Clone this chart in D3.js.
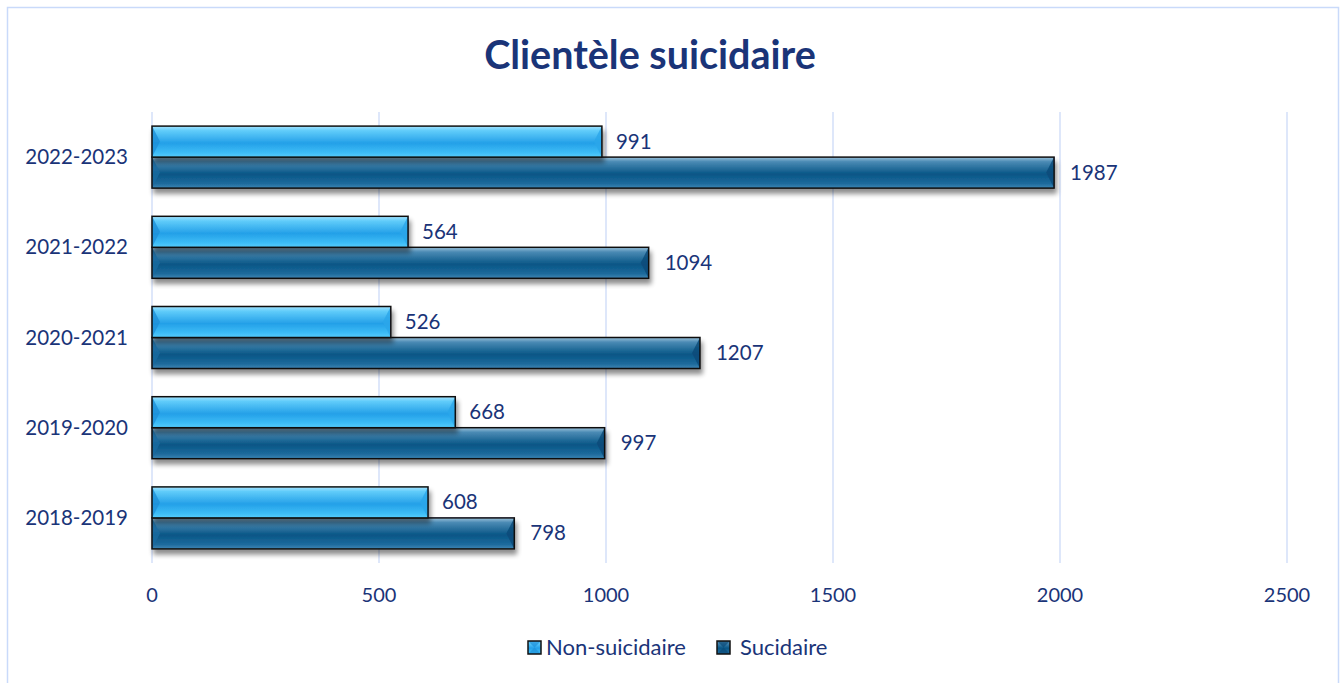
<!DOCTYPE html>
<html>
<head>
<meta charset="utf-8">
<script src="https://cdn.jsdelivr.net/npm/d3@7"></script>
<style>
  body { margin: 0; background: #fff; }
  svg { display: block; font-family: Lato, "Open Sans", sans-serif; }
</style>
</head>
<body>
<div id="chart"></div>
<script>
var periods = ["2022-2023", "2021-2022", "2020-2021", "2019-2020", "2018-2019"];
var nonSuicidaire = [991, 564, 526, 668, 608];
var suicidaire = [1987, 1094, 1207, 997, 798];
var seriesNames = ["Non-suicidaire", "Sucidaire"];
var xTicks = [0, 500, 1000, 1500, 2000, 2500];

var W = 1341, H = 683;
var svg = d3.select("#chart").append("svg").attr("width", W).attr("height", H);
var defs = svg.append("defs");

function grad(id, stops) {
  var g = defs.append("linearGradient").attr("id", id)
    .attr("x1", 0).attr("y1", 0).attr("x2", 0).attr("y2", 1);
  stops.forEach(function(s) {
    g.append("stop").attr("offset", s[0]).attr("stop-color", s[1]);
  });
}
grad("gLight", [[0, "#a6e4ff"], [0.15, "#60ccfa"], [0.55, "#24a0e8"], [0.85, "#3cbcf6"], [1, "#56ccfc"]]);
grad("gDark", [[0, "#9cc2da"], [0.15, "#4a8ab4"], [0.55, "#085686"], [0.85, "#1d6a9c"], [1, "#3e86b4"]]);

var f = defs.append("filter").attr("id", "shadow").attr("x", "-5%").attr("y", "-20%").attr("width", "110%").attr("height", "160%");
f.append("feGaussianBlur").attr("in", "SourceAlpha").attr("stdDeviation", 2.5);
f.append("feOffset").attr("dx", 2).attr("dy", 5).attr("result", "b");
f.append("feComponentTransfer").append("feFuncA").attr("type", "linear").attr("slope", 0.45);
var m = f.append("feMerge");
m.append("feMergeNode");
m.append("feMergeNode").attr("in", "SourceGraphic");

// outer frame
svg.append("rect").attr("x", 7.5).attr("y", 7.5).attr("width", 1331).attr("height", 690)
  .attr("fill", "none").attr("stroke", "#c9dafa").attr("stroke-width", 1.5);

svg.append("text").attr("x", 650).attr("y", 69).attr("text-anchor", "middle")
  .attr("font-size", 39.5).attr("font-weight", "bold").attr("fill", "#1a3478")
  .text("Clientèle suicidaire");

var x = d3.scaleLinear().domain([0, 2500]).range([152, 1287]);
var y = d3.scaleBand().domain(periods).range([112, 563]);
var barH = 31;

// gridlines
svg.append("g").selectAll("line").data(xTicks).enter().append("line")
  .attr("x1", function(d) { return x(d); }).attr("x2", function(d) { return x(d); })
  .attr("y1", 112).attr("y2", 563)
  .attr("stroke", "#d3dff8").attr("stroke-width", 1.5);

// x tick labels
svg.append("g").selectAll("text").data(xTicks).enter().append("text")
  .attr("x", function(d) { return x(d); }).attr("y", 602)
  .attr("text-anchor", "middle").attr("font-size", 20).attr("fill", "#1a3478")
  .text(function(d) { return d; });

// category labels
svg.append("g").selectAll("text").data(periods).enter().append("text")
  .attr("x", 128).attr("y", function(d) { return y(d) + y.bandwidth() / 2 + 7; })
  .attr("text-anchor", "end").attr("font-size", 20.5).attr("fill", "#1a3478")
  .text(function(d) { return d; });

function drawBar(g, x0, x1, y0, h, fillId, bevelL, bevelR) {
  var bar = g.append("g").attr("filter", "url(#shadow)");
  bar.append("rect").attr("x", x0).attr("y", y0).attr("width", x1 - x0).attr("height", h)
    .attr("fill", "url(#" + fillId + ")");
  var b = 8;
  bar.append("polygon")
    .attr("points", [[x0, y0], [x0 + b, y0 + h / 2], [x0, y0 + h]].join(" "))
    .attr("fill", bevelL).attr("opacity", 0.8);
  bar.append("polygon")
    .attr("points", [[x1, y0], [x1 - b, y0 + h / 2], [x1, y0 + h]].join(" "))
    .attr("fill", bevelR).attr("opacity", 0.8);
  bar.append("rect").attr("x", x0).attr("y", y0).attr("width", x1 - x0).attr("height", h)
    .attr("fill", "none").attr("stroke", "#111").attr("stroke-width", 1.5);
}

var bars = svg.append("g");
periods.forEach(function(p, i) {
  var yc = y(p) + y.bandwidth() / 2;
  // dark first so the light bar sits on top of its shadow
  drawBar(bars, x(0), x(suicidaire[i]), yc, barH, "gDark", "#1a6aa0", "#0a4a78");
  drawBar(bars, x(0), x(nonSuicidaire[i]), yc - barH, barH, "gLight", "#1e90d8", "#2aa6ea");
});

var labels = svg.append("g").attr("font-size", 20.5).attr("fill", "#1a3478");
periods.forEach(function(p, i) {
  var yc = y(p) + y.bandwidth() / 2;
  labels.append("text").attr("x", x(nonSuicidaire[i]) + 14).attr("y", yc - barH / 2 + 7)
    .text(nonSuicidaire[i]);
  labels.append("text").attr("x", x(suicidaire[i]) + 16).attr("y", yc + barH / 2 + 7)
    .text(suicidaire[i]);
});

// legend
var legend = svg.append("g");
var legendItems = [
  { name: seriesNames[0], fill: "gLight", bl: "#1e90d8", x: 528 },
  { name: seriesNames[1], fill: "gDark", bl: "#0a4a78", x: 717 }
];
legendItems.forEach(function(d) {
  var s = 13, yy = 641;
  legend.append("rect").attr("x", d.x).attr("y", yy).attr("width", s).attr("height", s)
    .attr("fill", "url(#" + d.fill + ")");
  legend.append("polygon").attr("points", [[d.x, yy], [d.x + s / 2, yy + s / 2], [d.x + s, yy]].join(" "))
    .attr("fill", d.bl).attr("opacity", 0.7);
  legend.append("polygon").attr("points", [[d.x, yy + s], [d.x + s / 2, yy + s / 2], [d.x + s, yy + s]].join(" "))
    .attr("fill", d.bl).attr("opacity", 0.7);
  legend.append("rect").attr("x", d.x).attr("y", yy).attr("width", s).attr("height", s)
    .attr("fill", "none").attr("stroke", "#111").attr("stroke-width", 1.5);
  legend.append("text").attr("x", d.x + (d.name === "Sucidaire" ? 23 : 18)).attr("y", yy + 14)
    .attr("font-size", 22).attr("fill", "#1a3478").text(d.name);
});
</script>
</body>
</html>
